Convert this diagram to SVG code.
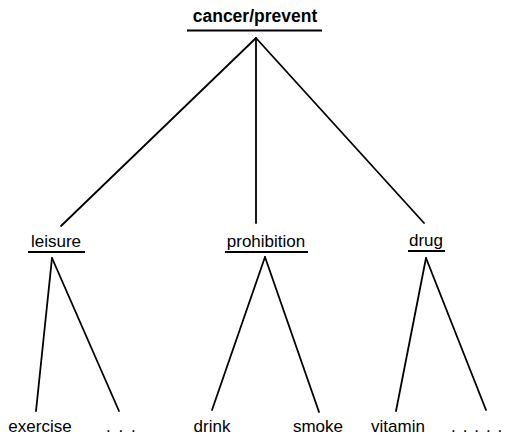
<svg xmlns="http://www.w3.org/2000/svg" width="507" height="436" viewBox="0 0 507 436">
<style>
text{font-family:"Liberation Sans",Arial,sans-serif;font-size:17px;fill:#000}
.root{font-weight:bold;font-size:17.5px}
.ul{stroke:#000;stroke-width:2}
.edge{stroke:#000;stroke-width:1.8;fill:none;stroke-linecap:round}
.dots{letter-spacing:1.5px}
</style>
<rect width="507" height="436" fill="#fff"/>
<g id="connectors">
<line class="edge" x1="256" y1="38" x2="61" y2="226"/>
<line class="edge" x1="256" y1="38" x2="256" y2="223"/>
<line class="edge" x1="256" y1="38" x2="424" y2="223"/>
<line class="edge" x1="52" y1="258" x2="36" y2="411"/>
<line class="edge" x1="52" y1="258" x2="119" y2="411"/>
<line class="edge" x1="265" y1="257" x2="212" y2="410"/>
<line class="edge" x1="265" y1="257" x2="319" y2="412"/>
<line class="edge" x1="426" y1="258" x2="396" y2="411"/>
<line class="edge" x1="426" y1="258" x2="486" y2="410"/>
</g>
<g id="cancer-prevent">
<text class="root" x="255" y="22" text-anchor="middle">cancer/prevent</text>
<line class="ul" x1="187" y1="30.5" x2="322" y2="30.5"/>
</g>
<g id="leisure">
<text x="56" y="247" text-anchor="middle">leisure</text>
<line class="ul" x1="28" y1="252" x2="85" y2="252"/>
</g>
<g id="prohibition">
<text x="266" y="247" text-anchor="middle">prohibition</text>
<line class="ul" x1="225" y1="252" x2="308" y2="252"/>
</g>
<g id="drug">
<text x="426" y="246" text-anchor="middle">drug</text>
<line class="ul" x1="408" y1="251" x2="445" y2="251"/>
</g>
<g id="exercise"><text x="40" y="432" text-anchor="middle">exercise</text></g>
<g id="leisure-more"><text class="dots" x="106" y="432">. . .</text></g>
<g id="drink"><text x="212" y="432" text-anchor="middle">drink</text></g>
<g id="smoke"><text x="318" y="432" text-anchor="middle">smoke</text></g>
<g id="vitamin"><text x="398" y="432" text-anchor="middle">vitamin</text></g>
<g id="drug-more"><text class="dots" x="451" y="432" style="letter-spacing:1.1px">. . . . .</text></g>
</svg>
